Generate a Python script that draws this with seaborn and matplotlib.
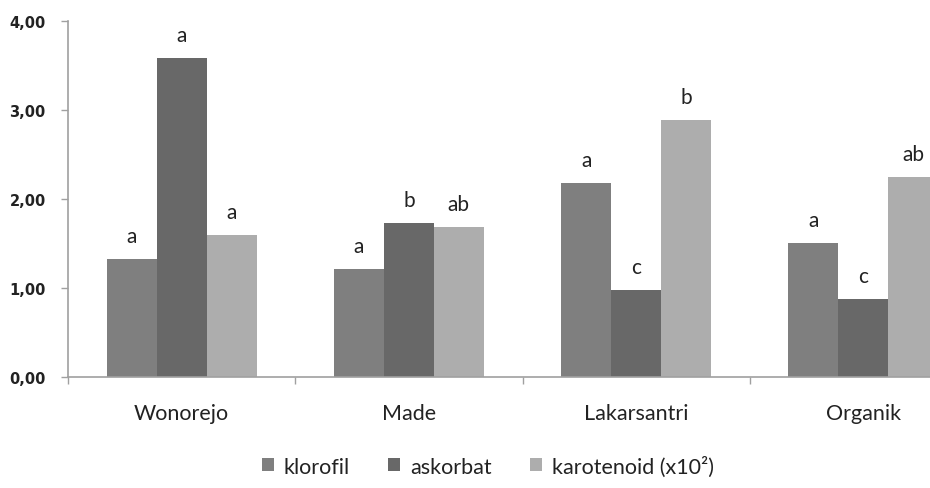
import matplotlib
matplotlib.use("Agg")
import matplotlib.pyplot as plt
import seaborn as sns
import pandas as pd
import numpy as np

categories = ["Wonorejo", "Made", "Lakarsantri", "Organik"]
series = ["klorofil", "askorbat", "karotenoid (x10²)"]
klorofil = [1.33, 1.21, 2.18, 1.51]
askorbat = [3.58, 1.73, 0.98, 0.88]
karotenoid = [1.60, 1.69, 2.89, 2.25]
letters_klorofil = ["a", "a", "a", "a"]
letters_askorbat = ["a", "b", "c", "c"]
letters_karotenoid = ["a", "ab", "b", "ab"]
yticks = [0, 1, 2, 3, 4]
ytick_labels = ["0,00", "1,00", "2,00", "3,00", "4,00"]
colors = ["#7f7f7f", "#686868", "#adadad"]

sns.set_theme(style="white")
plt.rcParams['font.family'] = ['Lato', 'DejaVu Sans']

rows = []
for s, vals in zip(series, [klorofil, askorbat, karotenoid]):
    for c, v in zip(categories, vals):
        rows.append({"lokasi": c, "seri": s, "nilai": v})
df = pd.DataFrame(rows)

fig = plt.figure(figsize=(9.30, 4.89), dpi=100)
ax = fig.add_axes([68/930, 1-378/489, 909/930, 356/489])

sns.barplot(data=df, x="lokasi", y="nilai", hue="seri", order=categories,
            hue_order=series, palette=colors, width=0.66, gap=0,
            saturation=1, ax=ax, legend=True, edgecolor="none", linewidth=0)

ax.set_xlim(-0.5, 3.5)
ax.set_ylim(0, 4)
ax.set_yticks(yticks)
ax.set_yticklabels(ytick_labels, fontsize=10.5, fontweight="bold",
                   family=["DejaVu Sans"], color="#222222")
ax.set_xticks(range(len(categories)))
ax.set_xticklabels(categories, fontsize=15.5, color="#222222")
ax.set_xticks(np.arange(-0.5, 4.0, 1.0), minor=True)
ax.tick_params(axis="x", which="major", length=0, pad=19)
ax.tick_params(axis="x", which="minor", length=5, width=1, color="#a0a0a0", direction="out", bottom=True)
ax.tick_params(axis="y", which="major", length=5, width=1, color="#a0a0a0", direction="out", left=True, pad=11)
ax.set_xlabel("")
ax.set_ylabel("")
for side in ["top", "right"]:
    ax.spines[side].set_visible(False)
for side in ["left", "bottom"]:
    ax.spines[side].set_color("#a0a0a0")
    ax.spines[side].set_linewidth(1.2)

for cont, lets in zip(ax.containers, [letters_klorofil, letters_askorbat, letters_karotenoid]):
    for bar, lt in zip(cont, lets):
        ax.annotate(lt, (bar.get_x() + bar.get_width()/2, bar.get_height()),
                    xytext=(0, 16.5), textcoords="offset points", ha="center",
                    va="center", fontsize=15, color="#222222", annotation_clip=False)

handles, labels = ax.get_legend_handles_labels()
ax.get_legend().remove()
fig.legend(handles, labels, loc="center", bbox_to_anchor=(488/930, 1-467/489),
           ncol=3, frameon=False, fontsize=15.5, handlelength=0.55, handleheight=0.55,
           handletextpad=0.45, columnspacing=1.8, labelcolor="#222222")

fig.savefig("out.png", dpi=100)
